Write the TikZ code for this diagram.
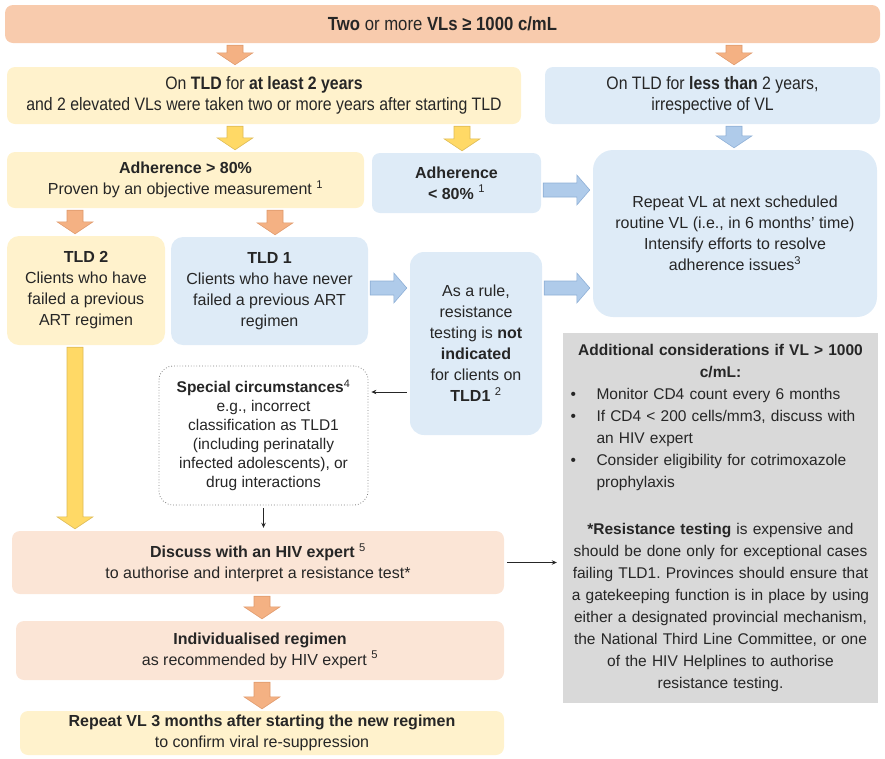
\documentclass[tikz,border=0pt]{standalone}
\usepackage{fontspec}
\setmainfont{Liberation Sans}
\newfontfamily\narrowfont[FakeStretch=0.88]{Liberation Sans}
\usetikzlibrary{calc, arrows.meta}

\definecolor{salmon}{HTML}{F8CBAD}
\definecolor{peach}{HTML}{FBE5D6}
\definecolor{cream}{HTML}{FFF2CC}
\definecolor{paleblue}{HTML}{DEEBF7}
\definecolor{notegray}{HTML}{D9D9D9}
\definecolor{orangefill}{HTML}{F4B183}
\definecolor{orangeline}{HTML}{E09A6C}
\definecolor{yellowfill}{HTML}{FFD966}
\definecolor{yellowline}{HTML}{DDBA55}
\definecolor{bluefill}{HTML}{AFCBEA}
\definecolor{blueline}{HTML}{8EAFD6}

% fat block arrows between boxes
\newcommand{\fatdown}[3]{%
  \draw[#1] let \p1=(#2), \p2=(#3) in
    (\x1-8pt,\y1-2pt) -- (\x1+8pt,\y1-2pt) -- (\x1+8pt,\y2+14pt) -- (\x1+18pt,\y2+14pt)
    -- (\x1,\y2+2pt) -- (\x1-18pt,\y2+14pt) -- (\x1-8pt,\y2+14pt) -- cycle;}
\newcommand{\fatright}[3]{%
  \draw[#1] let \p1=(#2), \p2=(#3) in
    (\x1+2pt,\y1+7pt) -- (\x2-16pt,\y1+7pt) -- (\x2-16pt,\y1+15pt) -- (\x2-3pt,\y1)
    -- (\x2-16pt,\y1-15pt) -- (\x2-16pt,\y1-7pt) -- (\x1+2pt,\y1-7pt) -- cycle;}
\newcommand{\bul}{\noindent\hangindent=32pt\hangafter=1\makebox[32pt][l]{\hspace{6pt}\textbullet}}

\begin{document}
\frenchspacing
\begin{tikzpicture}[
        x=1pt, y=-1pt,
        % common looks of the boxes
        box/.style={rounded corners=8pt, align=center, inner sep=4pt, text=black!85,
            font=\fontsize{16}{21}\selectfont},
        narrowbox/.style={box, font=\narrowfont\fontsize{18}{21.5}\selectfont},
        yellowbox/.style={box, fill=cream},
        bluebox/.style={box, fill=paleblue},
        pinkbox/.style={box, fill=peach},
        orangearrow/.style={fill=orangefill, draw=orangeline, line width=0.6pt},
        yellowarrow/.style={fill=yellowfill, draw=yellowline, line width=0.6pt},
        bluearrow/.style={fill=bluefill, draw=blueline, line width=0.6pt},
        thinarrow/.style={-{Stealth[length=5pt, width=4.5pt]}, line width=0.8pt, black!85,
            shorten <=3pt, shorten >=3pt}
    ]
    \useasboundingbox (0,0) rectangle (885,758);

    % columns and rows of the connectors
    \coordinate (colA) at (235,0);
    \coordinate (colB) at (462,0);
    \coordinate (colC) at (734,0);
    \coordinate (colD) at (75,0);
    \coordinate (colE) at (275,0);
    \coordinate (colF) at (262,0);
    \coordinate (rowA) at (0,190);
    \coordinate (rowB) at (0,288);
    \coordinate (rowC) at (0,392);

    % the boxes
    \node[narrowbox, fill=salmon, minimum width=875pt, minimum height=38pt,
        font=\narrowfont\fontsize{19}{22}\selectfont] (vls) at (442.5,24)
        {\textbf{Two} or more \textbf{VLs ≥ 1000 c/mL}};

    \node[narrowbox, fill=cream, minimum width=514pt, minimum height=57pt] (long) at (264,95.5)
        {On \textbf{TLD} for \textbf{at least 2 years}\\
         and 2 elevated VLs were taken two or more years after starting TLD};

    \node[narrowbox, fill=paleblue, minimum width=335pt, minimum height=57pt] (short) at (712.5,95.5)
        {On TLD for \textbf{less than} 2 years,\\ irrespective of VL};

    \node[yellowbox, minimum width=357pt, minimum height=56pt] (adhhi) at (185.5,180)
        {\textbf{Adherence > 80\%}\\ Proven by an objective measurement \textsuperscript{1}};

    \node[bluebox, minimum width=169pt, minimum height=60pt] (adhlo) at (456.5,183)
        {\textbf{Adherence}\\ \textbf{< 80\%} \textsuperscript{1}};

    \node[bluebox, rounded corners=20pt, minimum width=284pt, minimum height=167pt] (repeat) at (735,233.5)
        {Repeat VL at next scheduled\\ routine VL (i.e., in 6 months' time)\\
         Intensify efforts to resolve\\ adherence issues\textsuperscript{3}};

    \node[yellowbox, rounded corners=12pt, minimum width=158pt, minimum height=109pt] (tldtwo) at (86,290.5)
        {\textbf{TLD 2}\\ Clients who have\\ failed a previous\\ ART regimen};

    \node[bluebox, rounded corners=12pt, minimum width=197pt, minimum height=108pt] (tldone) at (269.5,291)
        {\textbf{TLD 1}\\ Clients who have never\\ failed a previous ART\\ regimen};

    \node[bluebox, rounded corners=14pt, minimum width=132pt, minimum height=183pt] (rule) at (476,343.5)
        {As a rule,\\ resistance\\ testing is \textbf{not}\\ \textbf{indicated}\\ for clients on\\
         \textbf{TLD1} \textsuperscript{2}};

    \node[box, rounded corners=14pt, draw=gray, dotted, line width=0.8pt, fill=white, minimum width=209pt,
        minimum height=139pt, font=\fontsize{15.5}{19}\selectfont] (special) at (263.5,435.5)
        {\textbf{Special circumstances}\textsuperscript{4}\\ e.g., incorrect\\ classification as TLD1\\
         (including perinatally\\ infected adolescents), or\\ drug interactions};

    \node[fill=notegray, text=black!85, text width=312pt, align=left, inner xsep=1.5pt, inner ysep=5pt,
        minimum width=315pt, minimum height=370pt, font=\fontsize{15.5}{22}\selectfont] (notes) at (720.5,518)
        {{\centering\bfseries Additional considerations if VL > 1000\\ c/mL:\par}
         \bul Monitor CD4 count every 6 months\par
         \bul If CD4 < 200 cells/mm3, discuss with\newline an HIV expert\par
         \bul Consider eligibility for cotrimoxazole\newline prophylaxis\par
         \vspace{25pt}
         {\centering \textbf{*Resistance testing} is expensive and\\
          should be done only for exceptional cases\\ failing TLD1. Provinces should ensure that\\
          a gatekeeping function is in place by using\\ either a designated provincial mechanism,\\
          the National Third Line Committee, or one\\ of the HIV Helplines to authorise\\
          resistance testing.\par}};

    \node[pinkbox, minimum width=492pt, minimum height=63pt] (discuss) at (258,562.5)
        {\textbf{Discuss with an HIV expert} \textsuperscript{5}\\ to authorise and interpret a resistance test*};

    \node[pinkbox, minimum width=488pt, minimum height=59pt] (indiv) at (260,650.5)
        {\textbf{Individualised regimen}\\ as recommended by HIV expert \textsuperscript{5}};

    \node[yellowbox, minimum width=484pt, minimum height=44pt] (final) at (262,733)
        {\textbf{Repeat VL 3 months after starting the new regimen}\\ to confirm viral re-suppression};

    % the block arrows
    \fatdown{orangearrow}{vls.south -| colA}{long.north -| colA}
    \fatdown{orangearrow}{vls.south -| colC}{short.north -| colC}
    \fatdown{yellowarrow}{long.south -| colA}{adhhi.north -| colA}
    \fatdown{yellowarrow}{long.south -| colB}{adhlo.north -| colB}
    \fatdown{bluearrow}{short.south -| colC}{repeat.north -| colC}
    \fatdown{orangearrow}{adhhi.south -| colD}{tldtwo.north -| colD}
    \fatdown{orangearrow}{adhhi.south -| colE}{tldone.north -| colE}
    \fatdown{yellowarrow}{tldtwo.south -| colD}{discuss.north -| colD}
    \fatdown{orangearrow}{discuss.south -| colF}{indiv.north -| colF}
    \fatdown{orangearrow}{indiv.south -| colF}{final.north -| colF}
    \fatright{bluearrow}{adhlo.east |- rowA}{repeat.west |- rowA}
    \fatright{bluearrow}{tldone.east |- rowB}{rule.west |- rowB}
    \fatright{bluearrow}{rule.east |- rowB}{repeat.west |- rowB}

    % the thin arrows
    \draw[thinarrow] (rule.west |- rowC) -- (special.east |- rowC);
    \draw[thinarrow] (special.south) -- (discuss.north -| special.south);
    \draw[thinarrow, shorten >=6pt] (discuss.east) -- (notes.west |- discuss.east);

\end{tikzpicture}
\end{document}
